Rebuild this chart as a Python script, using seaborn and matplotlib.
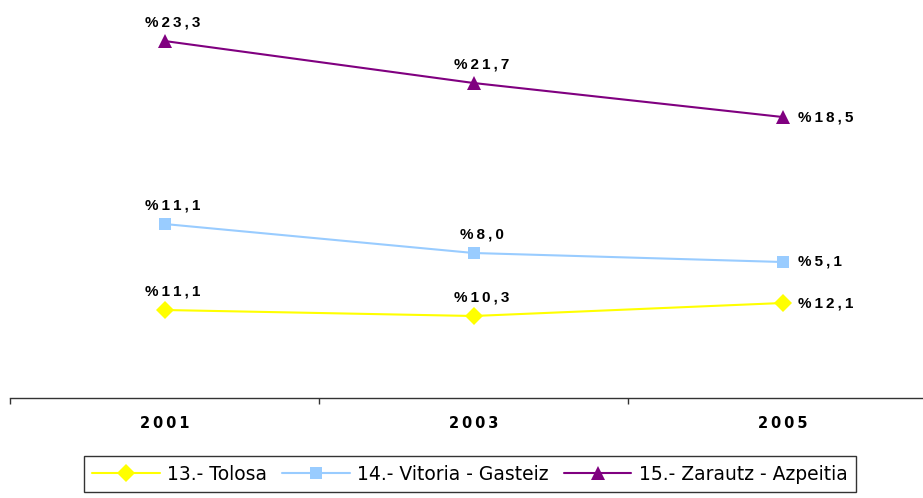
import numpy as np
import pandas as pd
import seaborn as sns
import matplotlib.pyplot as plt

# Categories
years = ["2001", "2003", "2005"]
zones = ["13.- Tolosa", "14.- Vitoria - Gasteiz", "15.- Zarautz - Azpeitia"]

# Plotted levels (the chart's vertical positions)
tolosa = [8.8, 8.2, 9.5]
vitoria = [17.4, 14.5, 13.6]
zarautz = [35.7, 31.5, 28.1]

# Data labels as printed on the chart
tolosa_lbl = ["%11,1", "%10,3", "%12,1"]
vitoria_lbl = ["%11,1", "%8,0", "%5,1"]
zarautz_lbl = ["%23,3", "%21,7", "%18,5"]

colors = ["#FFFF00", "#99CCFF", "#800080"]
markers = ["D", "s", "^"]
msizes = [9, 8, 10]

sns.set_style("white")
plt.rcParams["font.family"] = ["Liberation Sans", "DejaVu Sans"]
plt.rcParams["text.color"] = "black"
plt.rcParams["xtick.color"] = "black"

narrow = ["Liberation Sans Narrow", "DejaVu Sans Condensed", "DejaVu Sans"]


def spaced(s):
    # the original labels are drawn letter-spaced
    return "\u2009".join(s)


rows = []
for z, vals in zip(zones, [tolosa, vitoria, zarautz]):
    for y, v in zip(years, vals):
        rows.append({"zona": z, "year": y, "value": v})
df = pd.DataFrame(rows)

fig = plt.figure(figsize=(9.23, 4.98), dpi=100)
ax = fig.add_axes([10 / 923, 100 / 498, 927 / 923, 398 / 498])

for z, c, m, ms in zip(zones, colors, markers, msizes):
    sub = df[df["zona"] == z]
    sns.lineplot(data=sub, x="year", y="value", color=c, marker=m,
                 markersize=ms, markeredgewidth=0, linewidth=1.5,
                 label=z, ax=ax, sort=False)

ax.set_xlim(-0.5, 2.5)
ax.set_ylim(0, 39.8)
ax.set_xlabel("")
ax.set_ylabel("")
ax.set_yticks([])
for s in ["left", "right", "top"]:
    ax.spines[s].set_visible(False)
ax.spines["bottom"].set_color("#333333")
ax.spines["bottom"].set_linewidth(1.0)

ax.set_xticks([-0.5, 0.5, 1.5, 2.5], minor=False)
ax.set_xticklabels([])
ax.tick_params(axis="x", which="major", direction="out", length=4,
               width=1, color="#333333", bottom=True)
ax.set_xticks([0, 1, 2], minor=True)
ax.set_xticklabels([spaced(y) for y in years], minor=True, fontsize=10.5,
                   fontweight="bold", family=narrow)
ax.tick_params(axis="x", which="minor", length=0, pad=13, labelcolor="black")

# data labels
for vals, lbls in [(tolosa, tolosa_lbl), (vitoria, vitoria_lbl), (zarautz, zarautz_lbl)]:
    for i, (v, t) in enumerate(zip(vals, lbls)):
        if i < 2:
            ax.annotate(spaced(t), (i, v), xytext=(6, 8), textcoords="offset points",
                        ha="center", va="bottom", fontsize=11, fontweight="bold",
                        color="black")
        else:
            ax.annotate(spaced(t), (i, v), xytext=(11, 0), textcoords="offset points",
                        ha="left", va="center", fontsize=11, fontweight="bold",
                        color="black")

handles, labels = ax.get_legend_handles_labels()
ax.get_legend().remove()
leg = fig.legend(handles, labels, loc="center", bbox_to_anchor=(470 / 923, 1 - 474 / 498),
                 ncol=3, frameon=True, fancybox=False, handlelength=3.6,
                 columnspacing=0.8, handletextpad=0.4, borderpad=0.45,
                 prop={"family": narrow, "size": 13.5})
leg.get_frame().set_edgecolor("black")
leg.get_frame().set_linewidth(1.0)
for t in leg.get_texts():
    t.set_color("black")

fig.savefig("out.png", dpi=100)
